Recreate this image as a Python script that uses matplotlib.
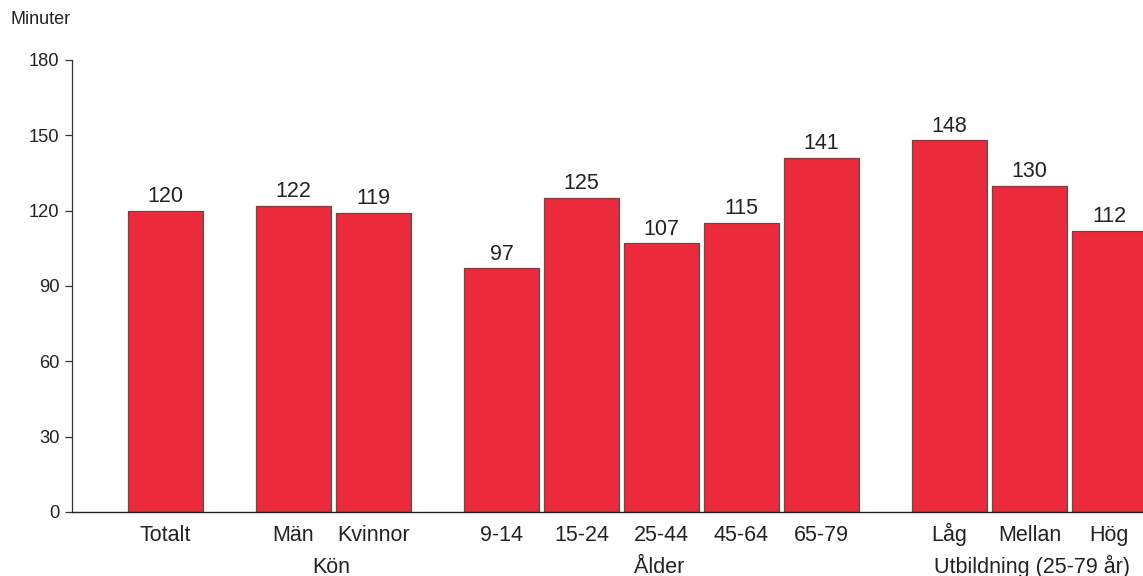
import matplotlib
matplotlib.use("Agg")
import matplotlib.pyplot as plt

plt.rcParams['font.family'] = ['Liberation Sans', 'DejaVu Sans']

categories = ["Totalt", "Män", "Kvinnor", "9-14", "15-24", "25-44", "45-64", "65-79", "Låg", "Mellan", "Hög"]
values = [120, 122, 119, 97, 125, 107, 115, 141, 148, 130, 112]
positions = [0, 1.6, 2.6, 4.2, 5.2, 6.2, 7.2, 8.2, 9.8, 10.8, 11.8]
group_labels = ["Kön", "Ålder", "Utbildning (25-79 år)"]
group_centers = [2.07, 6.17, 10.83]
yticks = [0, 30, 60, 90, 120, 150, 180]

fig = plt.figure(figsize=(11.43, 5.76), dpi=100)
ax = fig.add_axes([72/1143, 64/576, 1 - 72/1143, 452/576])

ax.bar(positions, values, width=0.94, color="#EC2A3C", edgecolor="#505050", linewidth=0.9, zorder=2)
for x, v in zip(positions, values):
    ax.text(x, v + 1.5, str(v), ha="center", va="bottom", fontsize=15.5, color="#222222")

ax.set_xlim(-1.17, 12.22)
ax.set_ylim(0, 180)
ax.set_yticks(yticks)
ax.set_yticklabels([str(t) for t in yticks], fontsize=13.2, color="#222222")
ax.set_xticks(positions)
ax.set_xticklabels(categories, fontsize=15.5, color="#222222")
for t in ax.get_xticklabels():
    t.set_verticalalignment("baseline")
ax.tick_params(axis="x", length=0, pad=21)
ax.tick_params(axis="y", length=5, width=0.9, color="#333333", pad=4, direction="out")

for s in ["top", "right"]:
    ax.spines[s].set_visible(False)
ax.spines["left"].set_color("#333333")
ax.spines["left"].set_linewidth(0.9)
ax.spines["bottom"].set_color("#222222")
ax.spines["bottom"].set_linewidth(1.0)

for lbl, c in zip(group_labels, group_centers):
    ax.text(c, -61/452, lbl, transform=ax.get_xaxis_transform(), ha="center", va="baseline", fontsize=15.5, color="#222222")

fig.text(11/1143, 1 - 20/576, "Minuter", ha="left", va="center", fontsize=13, color="#222222")

fig.savefig("out.png", dpi=100)
